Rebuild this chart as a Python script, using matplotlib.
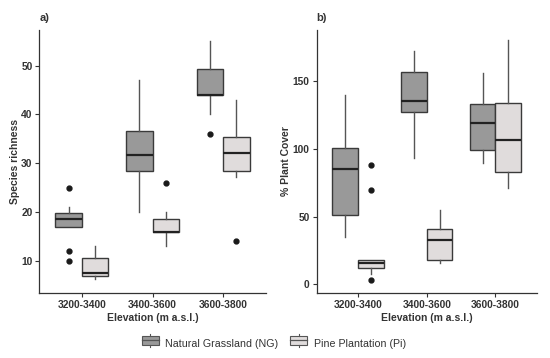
import matplotlib
matplotlib.use("Agg")
import matplotlib.pyplot as plt
from matplotlib.legend_handler import HandlerBase
from matplotlib.patches import Rectangle
from matplotlib.lines import Line2D

plt.rcParams['font.family'] = ['Liberation Sans', 'DejaVu Sans']

elev = ['3200-3400', '3400-3600', '3600-3800']
groups = ['Natural Grassland (NG)', 'Pine Plantation (Pi)']

# five number summaries: (low whisker, q1, median, q3, high whisker)
rich_ng = [(17.0, 17.0, 18.6, 19.7, 21.0), (20.0, 28.3, 31.6, 36.5, 47.0), (40.0, 44.0, 44.0, 49.3, 55.0)]
rich_pi = [(6.2, 6.9, 7.5, 10.5, 13.0), (13.0, 16.0, 16.0, 18.6, 20.0), (27.2, 28.3, 32.1, 35.3, 43.0)]
rich_ng_out = [[25, 12, 10], [], [36]]
rich_pi_out = [[], [26], [14]]

cover_ng = [(35, 51, 85.5, 100.5, 140), (93.5, 127.5, 135.5, 157, 172.5), (89.5, 99, 119, 133, 156)]
cover_pi = [(7.5, 11.8, 15.8, 17.8, 17.8), (16, 18.3, 32.5, 41.2, 55.3), (71.3, 83, 107, 134.2, 180.5)]
cover_ng_out = [[], [], []]
cover_pi_out = [[88.5, 70, 3], [], []]

colors = ['#999999', '#e0dcdc']
edge = '#3a3a3a'
txt = '#333333'


def stats(summ, outs):
    res = []
    for (lo, q1, med, q3, hi), fl in zip(summ, outs):
        res.append(dict(whislo=lo, q1=q1, med=med, q3=q3, whishi=hi, fliers=fl))
    return res


def panel(ax, ng, ngo, pi, pio, ylim, yticks, ylabel, tag):
    w = 0.375
    for k, (s, o) in enumerate([(ng, ngo), (pi, pio)]):
        pos = [i + 1 + (k - 0.5) * w for i in range(len(elev))]
        ax.bxp(stats(s, o), positions=pos, widths=w, patch_artist=True, showcaps=False,
               boxprops=dict(facecolor=colors[k], edgecolor=edge, linewidth=1.0),
               medianprops=dict(color='#222222', linewidth=1.6),
               whiskerprops=dict(color='#555555', linewidth=1.0),
               flierprops=dict(marker='o', markerfacecolor='#1a1a1a', markeredgecolor='#1a1a1a', markersize=3.5))
    ax.set_xlim(0.4, 3.6)
    ax.set_ylim(*ylim)
    ax.set_xticks([1, 2, 3])
    ax.set_xticklabels(elev)
    ax.set_yticks(yticks)
    for sp in ['top', 'right']:
        ax.spines[sp].set_visible(False)
    for sp in ['left', 'bottom']:
        ax.spines[sp].set_color('#333333')
        ax.spines[sp].set_linewidth(0.9)
    ax.tick_params(axis='both', length=3, width=0.8, color='#333333', labelsize=7.4, labelcolor=txt, pad=2)
    for lb in ax.get_xticklabels() + ax.get_yticklabels():
        lb.set_fontweight('bold')
    ax.set_xlabel('Elevation (m a.s.l.)', fontsize=7.5, fontweight='bold', color=txt, labelpad=2)
    ax.set_ylabel(ylabel, fontsize=7.5, fontweight='bold', color=txt, labelpad=1)
    ax.text(0.0, 1.045, tag, transform=ax.transAxes, fontsize=8, fontweight='bold', color=txt, ha='left', va='center')


class BoxKey(HandlerBase):
    def create_artists(self, legend, orig, xd, yd, width, height, fontsize, trans):
        fc = orig.get_facecolor()
        x0, w = xd + width * 0.05, width * 0.9
        y0, h = yd + height * 0.1, height * 0.8
        r = Rectangle((x0, y0), w, h, facecolor=fc, edgecolor='#555555', linewidth=0.8, transform=trans)
        m = Line2D([x0, x0 + w], [y0 + h / 2] * 2, color='#555555', linewidth=0.9, transform=trans)
        cx = x0 + w / 2
        t = Line2D([cx, cx], [y0 + h, yd + height * 1.1], color='#555555', linewidth=0.8, transform=trans)
        b = Line2D([cx, cx], [yd - height * 0.1, y0], color='#555555', linewidth=0.8, transform=trans)
        return [r, m, t, b]


fig = plt.figure(figsize=(5.5, 3.58), dpi=100)
ax1 = fig.add_axes([0.0718, 0.1816, 0.411, 0.7346])
ax2 = fig.add_axes([0.5758, 0.1816, 0.40, 0.7346])

panel(ax1, rich_ng, rich_ng_out, rich_pi, rich_pi_out, (3.4, 57.3), [10, 20, 30, 40, 50], 'Species richness', 'a)')
panel(ax2, cover_ng, cover_ng_out, cover_pi, cover_pi_out, (-6.4, 188), [0, 50, 100, 150], '% Plant Cover', 'b)')

handles = [Rectangle((0, 0), 1, 1, facecolor=c) for c in colors]
fig.legend(handles, groups, handler_map={Rectangle: BoxKey()}, loc='center', bbox_to_anchor=(0.497, 0.04),
           ncol=2, frameon=False, fontsize=7.7, labelcolor=txt, handlelength=1.8, handleheight=1.1,
           handletextpad=0.5, columnspacing=1.0)

fig.savefig('out.png', dpi=100)
